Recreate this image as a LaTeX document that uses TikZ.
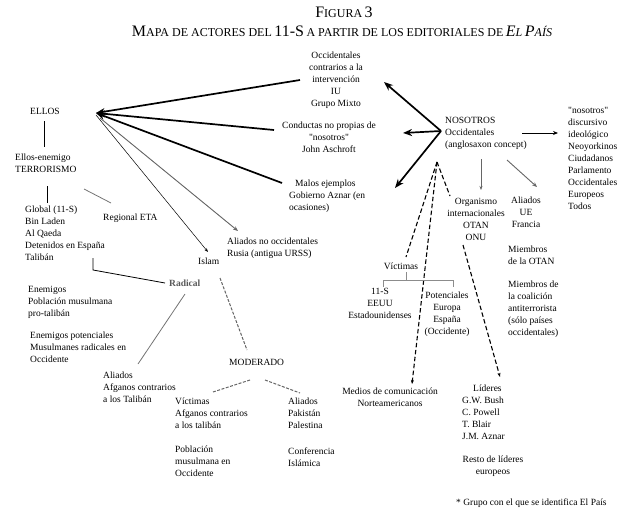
\documentclass[tikz,border=0pt]{standalone}
\usepackage{fontspec}
\setmainfont{Liberation Serif}
\usetikzlibrary{arrows.meta}
\newcommand\txtf{\fontsize{9.5}{12}\selectfont}
\newcommand\bigT{\fontsize{16}{18}\selectfont}
\newcommand\smT{\fontsize{12}{18}\selectfont}
\newcommand\sq{\textquotedbl}
\begin{document}
\begin{tikzpicture}[x=1pt,y=-1pt,
  lbl/.style={inner sep=0pt, font=\txtf, align=left, anchor=north west, yshift=5.4pt, execute at begin node=\strut},
  clbl/.style={lbl, align=center, anchor=north},
  bigarrow/.style={line width=1.7pt, -{Stealth[length=9pt,width=7pt]}},
  thinarrow/.style={line width=0.5pt, -{Stealth[length=4pt,width=3pt]}},
  medarrow/.style={line width=0.9pt, -{Stealth[length=5pt,width=4pt]}},
  plain/.style={line width=0.8pt},
  grayline/.style={line width=0.8pt, draw=black!55},
  graydash/.style={line width=1pt, draw=black!60, dash pattern=on 3pt off 1.5pt},
  dashline/.style={line width=1.1pt, dash pattern=on 4.5pt off 2.5pt}
]
\useasboundingbox (0,0) rectangle (627,514);
% title
\node[inner sep=0pt] (fig) at (344,12) {{\bigT F}{\smT IGURA} {\bigT 3}};
\node[inner sep=0pt] (title) at (342,31) {{\bigT M}{\smT APA DE ACTORES DEL} {\bigT 11-S} {\smT A PARTIR DE LOS EDITORIALES DE} \textit{{\bigT E}{\smT L} {\bigT P}{\smT AÍS}}};
% left side
\node[lbl] (ellos) at (30,111) {ELLOS};
\node[lbl] (enemigo) at (15,159) {Ellos-enemigo\\TERRORISMO};
\node[lbl] (global) at (25,211) {Global (11-S)\\Bin Laden\\Al Qaeda\\Detenidos en España\\Talibán};
\node[lbl] (eta) at (103,217) {Regional ETA};
\node[lbl, font=\txtf\bfseries, text=black!65] (radical) at (169,283) {Radical};
\node[lbl] (islam) at (198,261) {Islam};
\node[lbl] (enem) at (28,291) {Enemigos\\Población musulmana\\pro-talibán};
\node[lbl] (enempot) at (30,337) {Enemigos potenciales\\Musulmanes radicales en\\Occidente};
\node[lbl] (aliafg) at (103,377) {Aliados\\Afganos contrarios\\a los Talibán};
\node[lbl] (moderado) at (229,362) {MODERADO};
\node[lbl] (victafg) at (175,403) {Víctimas\\Afganos contrarios\\a los talibán};
\node[lbl] (pobl) at (175,451) {Población\\musulmana en\\Occidente};
\node[lbl] (alipak) at (288,403) {Aliados\\Pakistán\\Palestina};
\node[lbl] (conf) at (288,453) {Conferencia\\Islámica};
% centre
\node[clbl] (occ) at (336,57) {Occidentales\\contrarios a la\\intervención\\IU\hspace*{16pt}\\Grupo Mixto};
\node[clbl] (cond) at (329,127) {Conductas no propias de\\\sq nosotros\sq\\John Aschroft};
\node[lbl] (malos) at (289,185) {\hspace*{6pt}Malos ejemplos\\Gobierno Aznar (en\\ocasiones)};
\node[lbl] (alinocc) at (227,243) {Aliados no occidentales\\Rusia (antigua URSS)};
% right
\node[lbl] (nos) at (445,122) {NOSOTROS\\Occidentales\\(anglosaxon concept)};
\node[lbl] (nosd) at (568,112) {\sq nosotros\sq\\discursivo\\ideológico\\Neoyorkinos\\Ciudadanos\\Parlamento\\Occidentales\\Europeos\\Todos};
\node[clbl] (org) at (476,203) {Organismo\\internacionales\\OTAN\\ONU};
\node[clbl] (aliue) at (526,202) {Aliados\\UE\\Francia};
\node[lbl] (miotan) at (508,251) {Miembros\\de la OTAN};
\node[lbl] (micoal) at (508,286) {Miembros de\\la coalición\\antiterrorista\\(sólo países\\occidentales)};
\node[clbl] (vict) at (401,266) {Víctimas};
\node[clbl] (eeuu) at (380,293) {11-S\\EEUU\\Estadounidenses};
\node[clbl] (pot) at (447,297) {Potenciales\\Europa\\España\\(Occidente)};
\node[clbl] (medios) at (390,393) {Medios de comunicación\\Norteamericanos};
\node[lbl] (lid) at (462,390) {\hspace*{11pt}Líderes\\G.W. Bush\\C. Powell\\T. Blair\\J.M. Aznar};
\node[clbl] (resto) at (493,461) {Resto de líderes\\europeos};
\node[lbl] (nota) at (456,502) {* Grupo con el que se identifica El País};
% coordinates
\coordinate (eA) at (96,113);
\coordinate (occE) at (300,80);
\coordinate (condE) at (274,130);
\coordinate (malosE) at (282,183);
\coordinate (eB) at (96,115);
\coordinate (islamE) at (208,252);
\coordinate (eC) at (100,118);
\coordinate (alinoccE) at (238,231);
\coordinate (ellosS) at (44,121);
\coordinate (enemN) at (44,147);
\coordinate (enemS) at (47,186);
\coordinate (globN) at (47,203);
\coordinate (enemE) at (84,189);
\coordinate (etaW) at (111,203);
\coordinate (detS) at (93,258);
\coordinate (detK) at (93,270);
\coordinate (radW) at (165,283);
\coordinate (radS) at (185,294);
\coordinate (aliafgN) at (138,364);
\coordinate (islamS) at (220,278);
\coordinate (modN) at (247,350);
\coordinate (modSW) at (250,380);
\coordinate (victafgN) at (213,392);
\coordinate (modSE) at (265,380);
\coordinate (alipakN) at (300,393);
\coordinate (nA) at (441,131);
\coordinate (occT) at (384,82);
\coordinate (condT) at (403,133);
\coordinate (malosT) at (395,188);
\coordinate (nosE) at (522,133);
\coordinate (nosdW) at (558,133);
\coordinate (nosS) at (481,159);
\coordinate (orgN) at (481,190);
\coordinate (nosSE) at (507,160);
\coordinate (aliueN) at (537,187);
\coordinate (apex) at (437,162);
\coordinate (victN) at (406,257);
\coordinate (mediosN) at (412,384);
\coordinate (orgW) at (450,196);
\coordinate (onuS) at (463,245);
\coordinate (lidN) at (500,377);
\coordinate (bL) at (383,287);
\coordinate (bLt) at (383,280);
\coordinate (bRt) at (453,280);
\coordinate (bR) at (453,287);
\coordinate (bM) at (406,280);
\coordinate (bMt) at (406,272);
% connectors to ELLOS
\draw[bigarrow] (occE) -- (eA);
\draw[bigarrow] (condE) -- (eA);
\draw[bigarrow] (malosE) -- (eA);
\draw[thinarrow] (eB) -- (islamE);
\draw[medarrow, draw=black!60, fill=black!60] (eC) -- (alinoccE);
% left tree
\draw[plain] (ellosS) -- (enemN);
\draw[plain] (enemS) -- (globN);
\draw[grayline] (enemE) -- (etaW);
\draw[plain] (detS) -- (detK) -- (radW);
\draw[grayline] (radS) -- (aliafgN);
\draw[graydash] (islamS) -- (modN);
\draw[graydash] (modSW) -- (victafgN);
\draw[graydash] (modSE) -- (alipakN);
% NOSOTROS
\draw[bigarrow] (nA) -- (occT);
\draw[bigarrow] (nA) -- (condT);
\draw[bigarrow] (nA) -- (malosT);
\draw[medarrow] (nosE) -- (nosdW);
\draw[thinarrow, draw=black!60] (nosS) -- (orgN);
\draw[medarrow, draw=black!60] (nosSE) -- (aliueN);
\draw[dashline] (apex) -- (victN);
\draw[dashline, -{Stealth[length=4pt,width=3pt]}] (apex) -- (mediosN);
\draw[dashline] (apex) -- (orgW);
\draw[dashline, -{Stealth[length=4pt,width=3pt]}] (onuS) -- (lidN);
\draw[line width=1pt, draw=black!45] (bL) -- (bLt) -- (bRt) -- (bR);
\draw[line width=1pt, draw=black!45] (bM) -- (bMt);
\end{tikzpicture}
\end{document}
